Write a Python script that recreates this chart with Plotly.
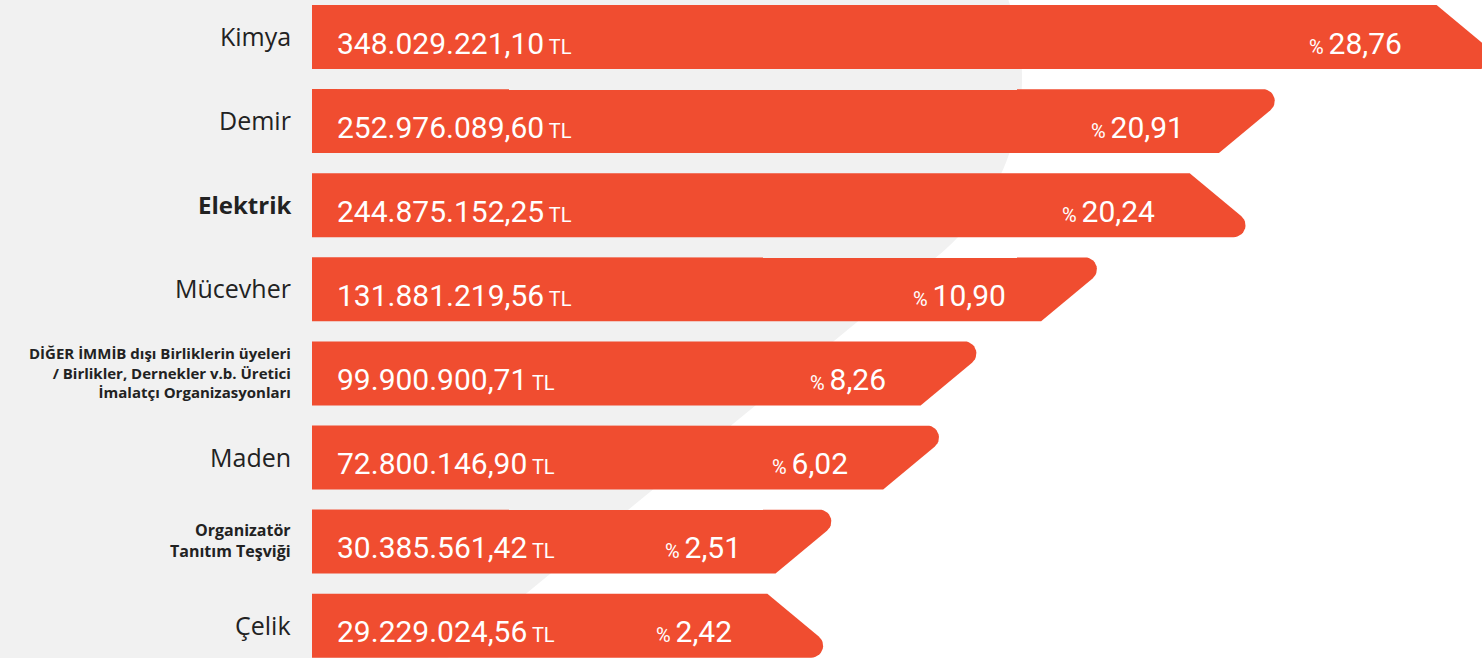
import numpy as np
import plotly.graph_objects as go

# veriler (soldan etiketler, tutarlar, paylar)
categories = [
    "Kimya",
    "Demir",
    "Elektrik",
    "Mücevher",
    "DİĞER İMMİB dışı Birliklerin üyeleri<br>/ Birlikler, Dernekler v.b. Üretici<br>İmalatçı Organizasyonları",
    "Maden",
    "Organizatör<br>Tanıtım Teşviği",
    "Çelik",
]
amounts_tl = [348029221.10, 252976089.60, 244875152.25, 131881219.56,
              99900900.71, 72800146.90, 30385561.42, 29229024.56]
shares_pct = [28.76, 20.91, 20.24, 10.90, 8.26, 6.02, 2.51, 2.42]
# infografikte cubuklar olcekli degil; boylar (eksen 0-100)
bar_len = [102.7, 84.1, 81.6, 68.9, 58.6, 55.4, 46.2, 45.5]

W, H = 1482, 658
ML = 312
PLOT_W = W - ML
XR = [0, 100]
YR = [7.384, -0.44]
px_x = PLOT_W / (XR[1] - XR[0])      # piksel / x birimi
px_y = H / (YR[0] - YR[1])           # piksel / y birimi

ORANGE = "#F04D30"
GREY = "#F1F1F1"

# cubuk ucu stili: 'up' = ust kose uzun (/), 'down' = alt kose uzun (\)
caps = ["down", "up", "down", "up", "up", "up", "up", "down"]
bold_labels = [False, False, True, False, True, False, True, False]
label_size = [25, 25, 24, 25, 15, 25, 16, 25]

BAR_H = 64
SLANT = 77
RADIUS = 12


def fmt_tl(v):
    s = f"{v:,.2f}"
    return s.replace(",", "#").replace(".", ",").replace("#", ".")


def round_corner(P, A, B, r, n=14):
    u1 = (A - P) / np.linalg.norm(A - P)
    u2 = (B - P) / np.linalg.norm(B - P)
    th = np.arccos(np.clip(u1 @ u2, -1, 1))
    t = r / np.tan(th / 2)
    bis = (u1 + u2) / np.linalg.norm(u1 + u2)
    C = P + bis * r / np.sin(th / 2)
    T1, T2 = P + u1 * t, P + u2 * t
    a1 = np.arctan2(*(T1 - C)[::-1])
    a2 = np.arctan2(*(T2 - C)[::-1])
    d = (a2 - a1 + np.pi) % (2 * np.pi) - np.pi
    a = a1 + d * np.linspace(0, 1, n)
    return [C + r * np.array([np.cos(k), np.sin(k)]) for k in a]


def bar_outline(length, cap):
    v = length * px_x
    h = BAR_H / 2
    if cap == "up":
        pts = [np.array([0, -h]), np.array([v, -h]), np.array([v - SLANT, h]), np.array([0, h])]
        ri = 1
    else:
        pts = [np.array([0, -h]), np.array([v - SLANT, -h]), np.array([v, h]), np.array([0, h])]
        ri = 2
    out = []
    for i, p in enumerate(pts):
        if i == ri:
            out += round_corner(p, pts[i - 1], pts[i + 1], RADIUS)
        else:
            out.append(p)
    out.append(pts[0])
    out = np.array(out)
    return out[:, 0] / px_x, out[:, 1] / px_y


fig = go.Figure()

for i, (cat, ln, cap) in enumerate(zip(categories, bar_len, caps)):
    xs, ys = bar_outline(ln, cap)
    fig.add_trace(go.Scatter(x=xs, y=ys + i, mode="lines", fill="toself",
                             fillcolor=ORANGE, line=dict(width=0),
                             hoverinfo="skip", showlegend=False))

for i, cat in enumerate(categories):
    txt = f"<b>{cat}</b>" if bold_labels[i] else cat
    fig.add_annotation(x=0, xref="paper", y=i, yref="y", text=txt,
                       xanchor="right", yanchor="middle", align="right",
                       xshift=-19, yshift=1, showarrow=False,
                       font=dict(family="Open Sans", size=label_size[i], color="#222222"))
    fig.add_annotation(x=23 / px_x, y=i, xref="x", yref="y",
                       text=f"{fmt_tl(amounts_tl[i])}<span style='font-size:20px'> TL</span>",
                       xanchor="left", yanchor="middle", yshift=-6, showarrow=False,
                       font=dict(family="Roboto", size=30, color="white"))
    pct = f"{shares_pct[i]:.2f}".replace(".", ",")
    fig.add_annotation(x=bar_len[i] - 110 / px_x, y=i, xref="x", yref="y",
                       text=f"<span style='font-size:20px'>% </span>{pct}",
                       xanchor="right", yanchor="middle", yshift=-6, showarrow=False,
                       font=dict(family="Roboto", size=30, color="white"))

# arka plan: gri alan ve sag taraftaki beyaz egri
ang = np.radians(np.linspace(-25, 50.6, 60))
arc_x = 792 + 230 * np.cos(ang)
arc_y = 78 + 230 * np.sin(ang)
bx = [0, arc_x[0]] + list(arc_x) + [938 - (H - 256) * 1.22, 0]
by = [-20, arc_y[0]] + list(arc_y) + [H, H]
path = "M " + " L ".join(f"{(x - ML) / PLOT_W:.5f},{1 - y / H:.5f}" for x, y in zip(bx, by)) + " Z"
fig.add_shape(type="path", path=path, xref="paper", yref="paper",
              fillcolor=GREY, line=dict(width=0), layer="below")

fig.update_layout(
    width=W, height=H,
    margin=dict(l=ML, r=0, t=0, b=0),
    paper_bgcolor="white", plot_bgcolor="rgba(0,0,0,0)",
    xaxis=dict(range=XR, visible=False, fixedrange=True),
    yaxis=dict(range=YR, visible=False, fixedrange=True),
    showlegend=False,
)

fig.write_html("out.html", config={"displayModeBar": False},
               post_script="document.body.style.margin='0';document.body.style.overflow='hidden';")
